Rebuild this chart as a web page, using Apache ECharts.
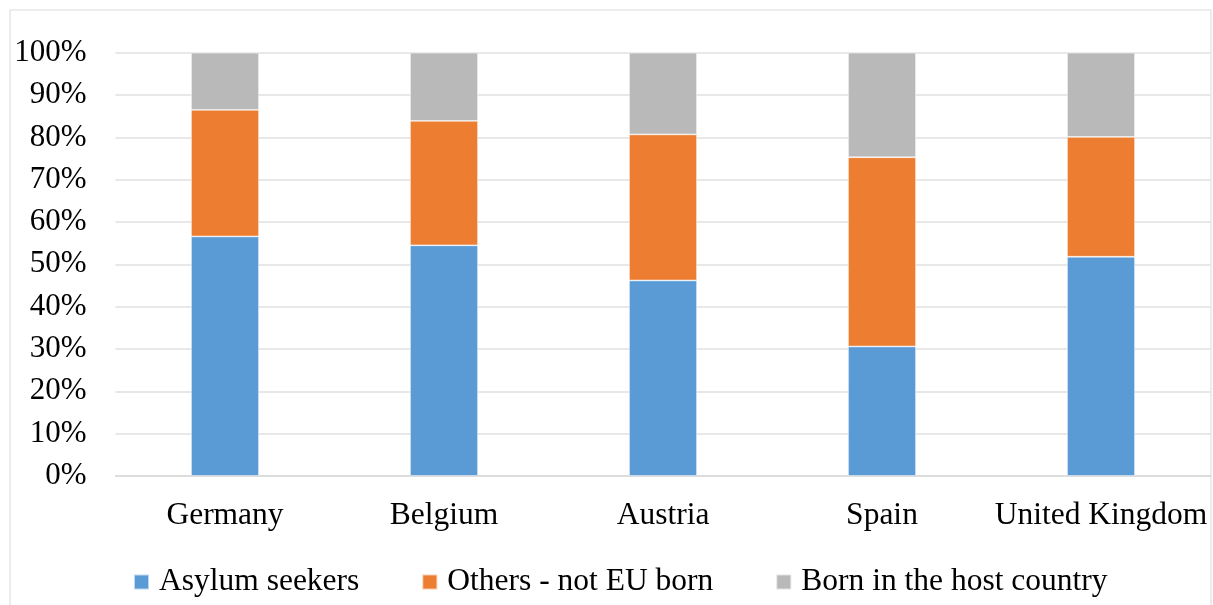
<!DOCTYPE html>
<html>
<head>
<meta charset="utf-8">
<script src="https://cdn.jsdelivr.net/npm/echarts@6/dist/echarts.min.js"></script>
<style>
  html, body { margin: 0; padding: 0; background: #fff; }
  #chart { width: 1213px; height: 605px; }
</style>
</head>
<body>
<div id="chart"></div>
<script>
// Countries on the x axis
const countries = ['Germany', 'Belgium', 'Austria', 'Spain', 'United Kingdom'];

// Shares (%) of each group per country, stacked to 100%
const asylumSeekers = [56.6, 54.5, 46.2, 30.6, 51.8];
const othersNotEU   = [29.9, 29.4, 34.5, 44.7, 28.3];
const bornInHost    = [13.5, 16.1, 19.3, 24.7, 19.9];

const seriesNames = ['Asylum seekers', 'Others - not EU born', 'Born in the host country'];
const seriesColors = ['#5B9BD5', '#ED7D31', '#B9B9B9'];

const FONT = '"Liberation Serif", "DejaVu Serif", serif';

const chart = echarts.init(document.getElementById('chart'), null, { renderer: 'canvas' });

const values = [asylumSeekers, othersNotEU, bornInHost];

chart.setOption({
  animation: false,
  backgroundColor: '#fff',
  graphic: [{
    type: 'rect',
    shape: { x: 10, y: 10, width: 1201, height: 610 },
    style: { fill: 'none', stroke: '#D9D9D9', lineWidth: 1 },
    silent: true,
    z: -1
  }],
  grid: { left: 115.5, right: 2.5, top: 52.7, bottom: 129 },
  legend: {
    bottom: 2,
    left: 128,
    itemWidth: 15,
    itemHeight: 15,
    itemGap: 62,
    icon: 'rect',
    textStyle: { fontFamily: FONT, fontSize: 31.5, color: '#000', padding: [0, 0, 0, 5] },
    data: seriesNames
  },
  xAxis: {
    type: 'category',
    data: countries,
    axisLine: { show: true, lineStyle: { color: '#D9D9D9', width: 1.5 } },
    axisTick: { show: false },
    axisLabel: { fontFamily: FONT, fontSize: 31.5, color: '#000', margin: 24, interval: 0 }
  },
  yAxis: {
    type: 'value',
    min: 0,
    max: 100,
    interval: 10,
    axisLine: { show: false },
    axisTick: { show: false },
    splitLine: { lineStyle: { color: '#E0E0E0', width: 1.5 } },
    axisLabel: { fontFamily: FONT, fontSize: 31, color: '#000', margin: 29, formatter: '{value}%' }
  },
  series: seriesNames.map((name, i) => ({
    name: name,
    type: 'bar',
    stack: 'total',
    barWidth: 68,
    data: values[i],
    itemStyle: { color: seriesColors[i], borderColor: 'rgba(255,255,255,0.6)', borderWidth: 0.8 }
  }))
});
</script>
</body>
</html>
